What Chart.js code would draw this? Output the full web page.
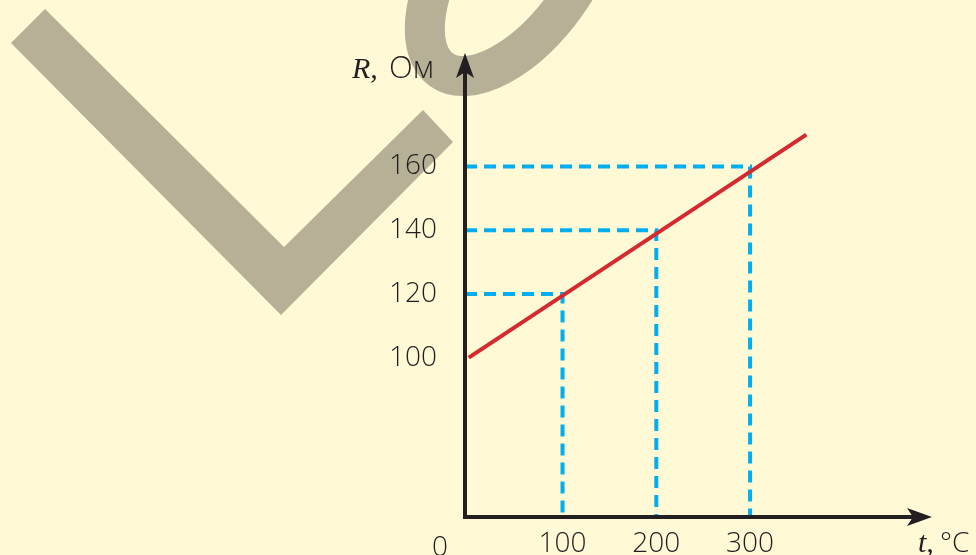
<!DOCTYPE html>
<html>
<head>
<meta charset="utf-8">
<script src="https://cdn.jsdelivr.net/npm/chart.js@4"></script>
<style>
  html, body { margin: 0; padding: 0; background: #FFF9D6; }
  #wrap { width: 976px; height: 555px; }
</style>
</head>
<body>
<div id="wrap"><canvas id="chart"></canvas></div>
<script>
// tick labels
const tempTicks = [100, 200, 300];
const resTicks = [100, 120, 140, 160];
// red line R(t)
const lineTemps = [0, 360];
const lineRes = [100, 170];
// dashed reading marks
const markTemps = [100, 200, 300];
const markRes = [120, 140, 160];

const X_MIN = -4, X_MAX = 494, Y_MIN = 50, Y_MAX = 195;

const INK = '#231F20';
const TICK_FONT = { family: "'Open Sans', 'Noto Sans', sans-serif", size: 28, weight: '300' };

function arrowHead(ctx, x, y, dir) {
    ctx.save();
    ctx.translate(x, y);
    if (dir === 'right') ctx.rotate(Math.PI / 2);
    ctx.beginPath();
    ctx.moveTo(0, 0);
    ctx.lineTo(-9, 25);
    ctx.lineTo(0, 19);
    ctx.lineTo(9, 25);
    ctx.closePath();
    ctx.fillStyle = INK;
    ctx.fill();
    ctx.restore();
}

const decor = {
    id: 'decor',
    beforeDraw(chart) {
        const ctx = chart.ctx;
        ctx.save();
        ctx.fillStyle = '#FFF9D6';
        ctx.fillRect(0, 0, chart.width, chart.height);
        // watermark: check mark + ring
        ctx.fillStyle = '#B5B096';
        ctx.beginPath();
        ctx.moveTo(45, 9);
        ctx.lineTo(11, 43);
        ctx.lineTo(281, 315);
        ctx.lineTo(453, 142);
        ctx.lineTo(423, 110);
        ctx.lineTo(284, 247);
        ctx.closePath();
        ctx.fill();
        ctx.strokeStyle = '#B5B096';
        ctx.lineWidth = 40;
        ctx.beginPath();
        ctx.ellipse(515, -35, 128, 64, -55 * Math.PI / 180, 0, Math.PI * 2);
        ctx.stroke();
        ctx.restore();
    },
    afterDatasetsDraw(chart) {
        const ctx = chart.ctx;
        const a = chart.chartArea;
        ctx.save();
        ctx.strokeStyle = INK;
        ctx.lineWidth = 4;
        ctx.beginPath();
        ctx.moveTo(a.left, a.top + 15);
        ctx.lineTo(a.left, a.bottom);
        ctx.lineTo(a.right - 15, a.bottom);
        ctx.stroke();
        arrowHead(ctx, a.left, a.top - 2, 'up');
        arrowHead(ctx, a.right, a.bottom, 'right');

        ctx.fillStyle = INK;
        ctx.textBaseline = 'alphabetic';
        // origin label
        ctx.font = "300 28px 'Open Sans', 'Noto Sans', sans-serif";
        ctx.textAlign = 'center';
        ctx.fillText('0', 440, 556);
        // axis titles
        ctx.textAlign = 'left';
        ctx.font = "italic 30px 'Liberation Serif', serif";
        ctx.fillText('R,', 352, 78);
        ctx.font = "300 31px 'Open Sans', 'Noto Sans', sans-serif";
        ctx.fillText('Ом', 389, 78);
        ctx.font = "italic 30px 'Liberation Serif', serif";
        ctx.fillText('t,', 918, 552);
        ctx.font = "300 28px 'Open Sans', 'Noto Sans', sans-serif";
        ctx.fillText('°C', 940, 552);
        ctx.restore();
    }
};

const datasets = [{
    data: lineTemps.map((t, i) => ({ x: t, y: lineRes[i] })),
    borderColor: '#D42A2F',
    borderWidth: 4,
    pointRadius: 0,
    borderCapStyle: 'butt'
}];
markTemps.forEach((t, i) => {
    datasets.push({
        data: [{ x: X_MIN, y: markRes[i] }, { x: t, y: markRes[i] }, { x: t, y: Y_MIN }],
        borderColor: '#00AEEF',
        borderWidth: 4,
        borderDash: [12, 7],
        pointRadius: 0
    });
});

new Chart(document.getElementById('chart'), {
    type: 'line',
    data: { datasets: datasets },
    options: {
        responsive: true,
        maintainAspectRatio: false,
        animation: false,
        layout: { padding: { top: 55, right: 44, left: 0, bottom: 0 } },
        plugins: { legend: { display: false }, tooltip: { enabled: false } },
        scales: {
            x: {
                type: 'linear',
                min: X_MIN, max: X_MAX,
                grid: { display: false },
                border: { display: false },
                afterBuildTicks: s => { s.ticks = tempTicks.map(v => ({ value: v })); },
                afterFit: s => { s.height = 38; s.paddingLeft = 0; s.paddingRight = 0; },
                ticks: { color: INK, font: TICK_FONT, padding: 2, maxRotation: 0 }
            },
            y: {
                min: Y_MIN, max: Y_MAX,
                grid: { display: false },
                border: { display: false },
                afterBuildTicks: s => { s.ticks = resTicks.map(v => ({ value: v })); },
                afterFit: s => { s.width = 465; s.paddingTop = 0; s.paddingBottom = 0; },
                ticks: { color: INK, font: TICK_FONT, padding: 20 }
            }
        }
    },
    plugins: [decor]
});
</script>
</body>
</html>
